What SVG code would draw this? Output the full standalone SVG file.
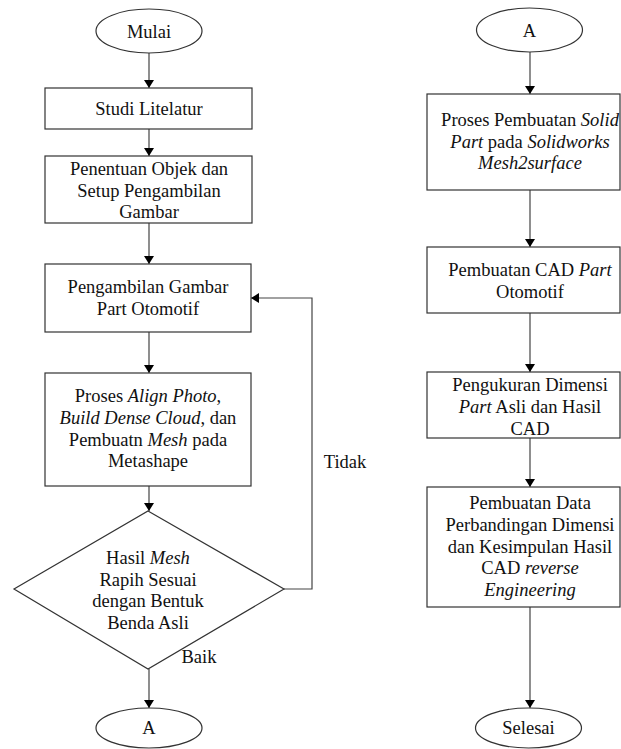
<svg xmlns="http://www.w3.org/2000/svg" width="621" height="749" viewBox="0 0 621 749">
<defs>
<marker id="ah" markerWidth="8" markerHeight="10" refX="8" refY="5" orient="auto" markerUnits="userSpaceOnUse">
<path d="M0,0 L8,5 L0,10 Z" fill="#000"/>
</marker>
<style>
.s{fill:#fff;stroke:#333;stroke-width:1.2}
.t{font-family:"Liberation Serif","Times New Roman",serif;font-size:18.5px;fill:#111;text-anchor:middle}
.i{font-style:italic}
.c{fill:none;stroke:#444;stroke-width:1.2}
</style>
</defs>
<rect width="621" height="749" fill="#fff"/>
<g id="connectors">
<line class="c" x1="149" y1="53" x2="149" y2="88" marker-end="url(#ah)"/>
<line class="c" x1="149" y1="129" x2="149" y2="156" marker-end="url(#ah)"/>
<line class="c" x1="149" y1="223" x2="149" y2="264" marker-end="url(#ah)"/>
<line class="c" x1="149" y1="332" x2="149" y2="373" marker-end="url(#ah)"/>
<line class="c" x1="149" y1="486" x2="149" y2="511" marker-end="url(#ah)"/>
<line class="c" x1="149" y1="669" x2="149" y2="708" marker-end="url(#ah)"/>
<polyline class="c" points="284,589 312,589 312,298 251,298" marker-end="url(#ah)"/>
<text class="t" x="199" y="663">Baik</text>
<text class="t" x="345" y="468">Tidak</text>
<line class="c" x1="530" y1="52" x2="530" y2="94" marker-end="url(#ah)"/>
<line class="c" x1="530" y1="190" x2="530" y2="247" marker-end="url(#ah)"/>
<line class="c" x1="530" y1="313" x2="530" y2="372" marker-end="url(#ah)"/>
<line class="c" x1="530" y1="438" x2="530" y2="487" marker-end="url(#ah)"/>
<line class="c" x1="530" y1="607" x2="530" y2="708" marker-end="url(#ah)"/>
</g>
<g id="mulai">
<ellipse class="s" cx="149" cy="31" rx="53" ry="22"/>
<text class="t" x="149" y="38">Mulai</text>
</g>
<g id="studi">
<rect class="s" x="45" y="88" width="207" height="41"/>
<text class="t" x="149" y="115">Studi Litelatur</text>
</g>
<g id="penentuan">
<rect class="s" x="45" y="156" width="207" height="67"/>
<text class="t" x="149" y="175">Penentuan Objek dan</text>
<text class="t" x="149" y="197">Setup Pengambilan</text>
<text class="t" x="149" y="218">Gambar</text>
</g>
<g id="pengambilan">
<rect class="s" x="45" y="264" width="206" height="68"/>
<text class="t" x="148" y="293">Pengambilan Gambar</text>
<text class="t" x="148" y="315">Part Otomotif</text>
</g>
<g id="proses">
<rect class="s" x="45" y="373" width="206" height="113"/>
<text class="t" x="148" y="402">Proses <tspan class="i">Align Photo</tspan>,</text>
<text class="t" x="148" y="424"><tspan class="i">Build Dense Cloud</tspan>, dan</text>
<text class="t" x="148" y="446">Pembuatn <tspan class="i">Mesh</tspan> pada</text>
<text class="t" x="148" y="467">Metashape</text>
</g>
<g id="keputusan">
<polygon class="s" points="148,511 284,589 148,669 14,589"/>
<text class="t" x="148" y="564">Hasil <tspan class="i">Mesh</tspan></text>
<text class="t" x="148" y="586">Rapih Sesuai</text>
<text class="t" x="148" y="607">dengan Bentuk</text>
<text class="t" x="148" y="629">Benda Asli</text>
</g>
<g id="a-left">
<ellipse class="s" cx="149" cy="728" rx="53" ry="20"/>
<text class="t" x="149" y="734">A</text>
</g>
<g id="a-right">
<ellipse class="s" cx="529.5" cy="30" rx="53" ry="22"/>
<text class="t" x="529.5" y="37">A</text>
</g>
<g id="solid">
<rect class="s" x="427" y="94" width="193" height="96"/>
<text class="t" x="530" y="126">Proses Pembuatan <tspan class="i">Solid</tspan></text>
<text class="t" x="530" y="148"><tspan class="i">Part</tspan> pada <tspan class="i">Solidworks</tspan></text>
<text class="t i" x="530" y="169">Mesh2surface</text>
</g>
<g id="cad">
<rect class="s" x="427" y="247" width="193" height="66"/>
<text class="t" x="530" y="276">Pembuatan CAD <tspan class="i">Part</tspan></text>
<text class="t" x="530" y="298">Otomotif</text>
</g>
<g id="pengukuran">
<rect class="s" x="427" y="372" width="193" height="66"/>
<text class="t" x="530" y="391">Pengukuran Dimensi</text>
<text class="t" x="530" y="413"><tspan class="i">Part</tspan> Asli dan Hasil</text>
<text class="t" x="530" y="435">CAD</text>
</g>
<g id="perbandingan">
<rect class="s" x="427" y="487" width="193" height="120"/>
<text class="t" x="530" y="509">Pembuatan Data</text>
<text class="t" x="530" y="531">Perbandingan Dimensi</text>
<text class="t" x="530" y="553">dan Kesimpulan Hasil</text>
<text class="t" x="530" y="574">CAD <tspan class="i">reverse</tspan></text>
<text class="t i" x="530" y="596">Engineering</text>
</g>
<g id="selesai">
<ellipse class="s" cx="528.5" cy="728" rx="53" ry="20"/>
<text class="t" x="528.5" y="734">Selesai</text>
</g>
</svg>
